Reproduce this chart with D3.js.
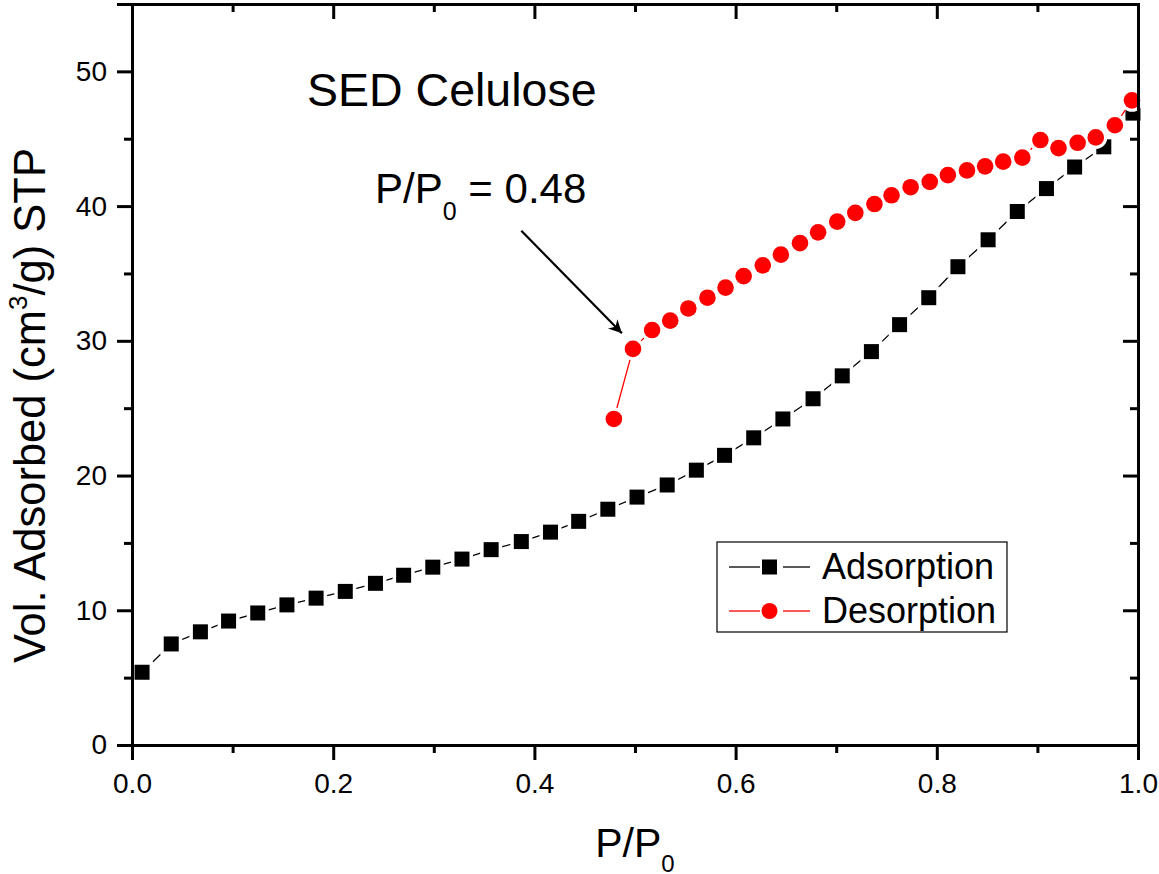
<!DOCTYPE html>
<html>
<head>
<meta charset="utf-8">
<script src="https://cdn.jsdelivr.net/npm/d3@7"></script>
<style>
body{margin:0;background:#fff}
text{font-family:"Liberation Sans",Arial,sans-serif;fill:#000}
</style>
</head>
<body>
<div id="chart"></div>
<script>
var adsX = [0.010,0.039,0.068,0.096,0.125,0.154,0.183,0.212,0.242,0.270,0.299,0.328,0.357,0.387,0.416,0.444,0.473,0.502,0.532,0.561,0.589,0.618,0.647,0.677,0.706,0.735,0.763,0.792,0.821,0.851,0.880,0.909,0.937,0.966,0.995]
var adsY = [5.4,7.5,8.4,9.2,9.8,10.4,10.9,11.4,12.0,12.6,13.2,13.8,14.5,15.1,15.8,16.6,17.5,18.4,19.3,20.4,21.5,22.8,24.2,25.7,27.4,29.2,31.2,33.2,35.5,37.5,39.6,41.3,42.9,44.4,46.9]
var desX = [0.479,0.498,0.517,0.535,0.553,0.572,0.590,0.608,0.627,0.645,0.664,0.682,0.701,0.719,0.738,0.755,0.774,0.793,0.811,0.830,0.848,0.866,0.885,0.903,0.921,0.940,0.958,0.977,0.994]
var desY = [24.2,29.4,30.8,31.5,32.4,33.2,33.95,34.8,35.6,36.4,37.25,38.05,38.85,39.5,40.15,40.8,41.4,41.8,42.3,42.65,42.95,43.3,43.6,44.9,44.3,44.7,45.1,46.0,47.85]
var seriesNames = ["Adsorption","Desorption"]
var seriesColors = ["#000000","#ff0000"]
var xMajor = [0,0.2,0.4,0.6,0.8,1.0]
var xMinor = [0.1,0.3,0.5,0.7,0.9]
var yMajor = [0,10,20,30,40,50]
var yMinor = [5,15,25,35,45]

var width = 1159
var height = 874
var plotLeft = 132, plotRight = 1138, plotTop = 4, plotBottom = 745

var x = d3.scaleLinear().domain([0,1]).range([plotLeft,plotRight])
var y = d3.scaleLinear().domain([0,55]).range([plotBottom,plotTop])

var svg = d3.select("#chart").append("svg").attr("width",width).attr("height",height)

var line = d3.line().x(function(d){return x(d[0])}).y(function(d){return y(d[1])})

function drawSeries(xs,ys,color,shape){
    var pts = xs.map(function(v,i){return [v,ys[i]]})
    var g = svg.append("g")
    g.append("path").datum(pts).attr("d",line).attr("fill","none").attr("stroke",color).attr("stroke-width",1.3)
    if(shape=="square"){
        g.selectAll(".halo").data(pts).enter().append("rect")
        .attr("x",function(d){return x(d[0])-11}).attr("y",function(d){return y(d[1])-11})
        .attr("width",22).attr("height",22).attr("fill","#fff")
        g.selectAll(".mk").data(pts).enter().append("rect")
        .attr("x",function(d){return x(d[0])-7.5}).attr("y",function(d){return y(d[1])-7.5})
        .attr("width",15).attr("height",15).attr("fill",color)
    }else{
        g.selectAll(".halo").data(pts).enter().append("circle")
        .attr("cx",function(d){return x(d[0])}).attr("cy",function(d){return y(d[1])})
        .attr("r",11.5).attr("fill","#fff")
        g.selectAll(".mk").data(pts).enter().append("circle")
        .attr("cx",function(d){return x(d[0])}).attr("cy",function(d){return y(d[1])})
        .attr("r",8.3).attr("fill",color)
    }
}
drawSeries(adsX,adsY,seriesColors[0],"square")
drawSeries(desX,desY,seriesColors[1],"circle")

function styleAxis(g){
    g.selectAll("path").attr("stroke","#000").attr("stroke-width",3)
    g.selectAll("line").attr("stroke","#000").attr("stroke-width",3)
    g.selectAll("text").style("font-size","28px").attr("fill","#000")
}

// bottom + left: ticks out, top + right: ticks in
svg.append("g").attr("transform","translate(0,"+plotBottom+")")
.call(d3.axisBottom(x).tickValues(xMajor).tickSize(15).tickPadding(13).tickFormat(d3.format(".1f")))
.call(styleAxis)
svg.append("g").attr("transform","translate(0,"+plotBottom+")")
.call(d3.axisBottom(x).tickValues(xMinor).tickSize(8).tickFormat("").tickSizeOuter(0))
.call(styleAxis)
svg.append("g").attr("transform","translate(0,"+plotTop+")")
.call(d3.axisTop(x).tickValues(xMajor).tickSize(-15).tickFormat(""))
.call(styleAxis)
svg.append("g").attr("transform","translate(0,"+plotTop+")")
.call(d3.axisTop(x).tickValues(xMinor).tickSize(-8).tickFormat("").tickSizeOuter(0))
.call(styleAxis)
svg.append("g").attr("transform","translate("+plotLeft+",0)")
.call(d3.axisLeft(y).tickValues(yMajor).tickSize(15).tickPadding(10))
.call(styleAxis)
svg.append("g").attr("transform","translate("+plotLeft+",0)")
.call(d3.axisLeft(y).tickValues(yMinor).tickSize(8).tickFormat("").tickSizeOuter(0))
.call(styleAxis)
svg.append("g").attr("transform","translate("+plotRight+",0)")
.call(d3.axisRight(y).tickValues(yMajor).tickSize(-15).tickFormat(""))
.call(styleAxis)
svg.append("g").attr("transform","translate("+plotRight+",0)")
.call(d3.axisRight(y).tickValues(yMinor).tickSize(-8).tickFormat("").tickSizeOuter(0))
.call(styleAxis)

// axis titles
var xt = svg.append("text").attr("x",(plotLeft+plotRight)/2).attr("y",857).attr("text-anchor","middle").style("font-size","41px")
xt.append("tspan").text("P/P")
xt.append("tspan").text("0").style("font-size","24px").attr("dy",15)

var yt = svg.append("text").attr("transform","translate(45,663) rotate(-90)").style("font-size","43.5px")
yt.append("tspan").text("Vol. Adsorbed (cm")
yt.append("tspan").text("3").style("font-size","26px").attr("dy",-18)
yt.append("tspan").text("/g) STP").attr("dy",18)

// annotations
svg.append("text").attr("x",x(0.174)).attr("y",y(47.4)).style("font-size","46.5px").text("SED Celulose")
var pt = svg.append("text").attr("x",x(0.2416)).attr("y",y(40.25)).style("font-size","42px")
pt.append("tspan").text("P/P")
pt.append("tspan").text("0").style("font-size","25px").attr("dy",17)
pt.append("tspan").text(" = 0.48").attr("dy",-17)

svg.append("defs").append("marker").attr("id","arr").attr("viewBox","0 0 10 10")
.attr("refX",10).attr("refY",5).attr("markerWidth",8).attr("markerHeight",6).attr("orient","auto")
.attr("markerUnits","strokeWidth")
.append("path").attr("d","M0,0 L10,5 L0,10 L3,5 Z").attr("fill","#000")
svg.append("line").attr("x1",x(0.387)).attr("y1",y(38.17)).attr("x2",x(0.487)).attr("y2",y(30.56))
.attr("stroke","#000").attr("stroke-width",2.2).attr("marker-end","url(#arr)")

// legend
var lg = svg.append("g").attr("transform","translate(717,542)")
lg.append("rect").attr("width",290).attr("height",90).attr("fill","#fff").attr("stroke","#000").attr("stroke-width",1.2)
seriesNames.forEach(function(name,i){
    var cy = 25 + i*44
    var c = seriesColors[i]
    lg.append("line").attr("x1",12).attr("x2",43).attr("y1",cy).attr("y2",cy).attr("stroke",c).attr("stroke-width",1.3)
    lg.append("line").attr("x1",66).attr("x2",93).attr("y1",cy).attr("y2",cy).attr("stroke",c).attr("stroke-width",1.3)
    if(i==0){
        lg.append("rect").attr("x",45).attr("y",cy-7.5).attr("width",15).attr("height",15).attr("fill",c)
    }else{
        lg.append("circle").attr("cx",52.5).attr("cy",cy).attr("r",8).attr("fill",c)
    }
    lg.append("text").attr("x",105).attr("y",cy+12).style("font-size","36px").text(name)
})
</script>
</body>
</html>
